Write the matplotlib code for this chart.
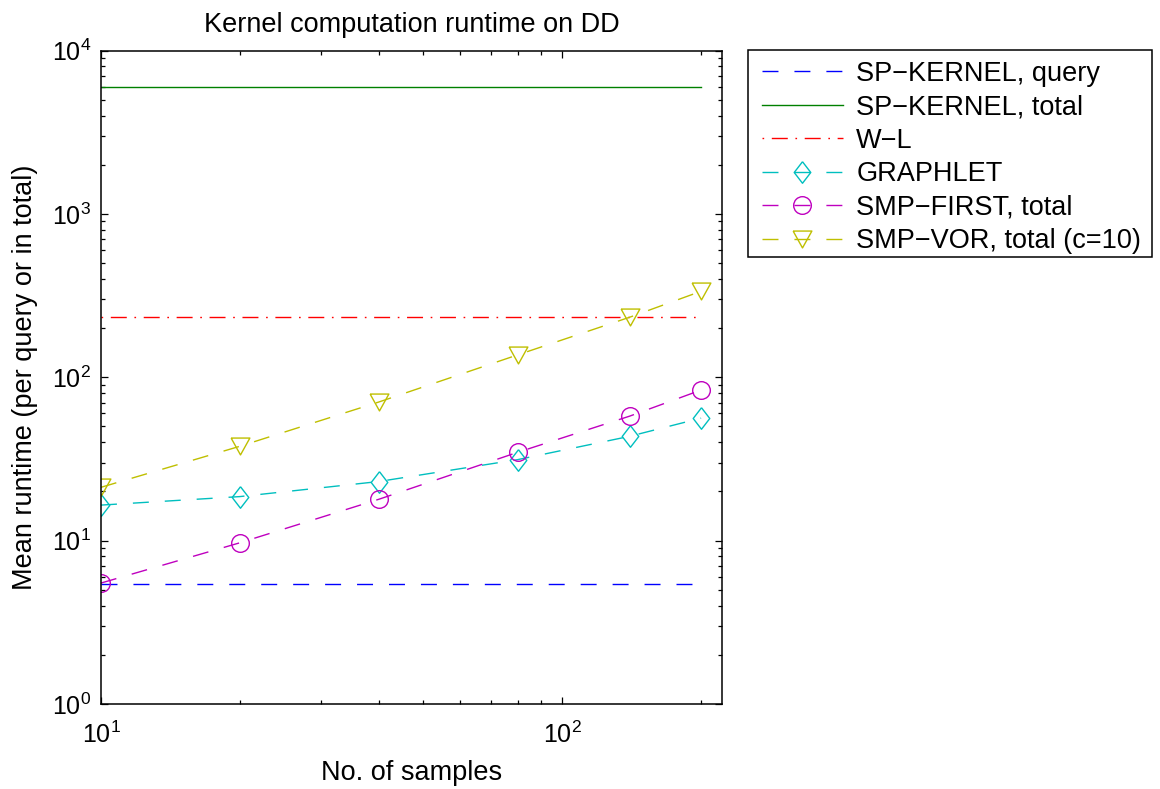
import matplotlib
matplotlib.use("Agg")
import matplotlib.pyplot as plt
from matplotlib.patches import Rectangle
import numpy as np

plt.rcParams['font.family'] = ['Liberation Sans', 'DejaVu Sans']
plt.rcParams['mathtext.fontset'] = 'custom'
plt.rcParams['mathtext.rm'] = 'Liberation Sans'
plt.rcParams['mathtext.it'] = 'Liberation Sans:italic'
plt.rcParams['mathtext.bf'] = 'Liberation Sans:bold'
plt.rcParams['lines.scale_dashes'] = False

# ---- data ----
samples = [10, 20, 40, 80, 140, 200]
x_range = [10, 200]
sp_query = 5.4
sp_total = 6000
wl = 233
graphlet = [16.5, 18.6, 23.0, 31.3, 43.5, 56.2]
smp_first = [5.5, 9.7, 17.9, 34.7, 57.8, 83.5]
smp_vor = [21.2, 37.8, 70.5, 137, 233, 336]

labels = ["SP\u2212KERNEL, query", "SP\u2212KERNEL, total", "W\u2212L",
          "GRAPHLET", "SMP\u2212FIRST, total", "SMP\u2212VOR, total (c=10)"]
title = "Kernel computation runtime on DD"
xlabel = "No. of samples"
ylabel = "Mean runtime (per query or in total)"

# ---- style ----
c_b = (0, 0, 1)
c_g = (0, 0.5, 0)
c_r = (1, 0, 0)
c_c = (0, 0.75, 0.75)
c_m = (0.75, 0, 0.75)
c_y = (0.75, 0.75, 0)
lw = 1.0
dash = (11.5, 11.5)
dashdot = (17, (11.5, 5.5, 1.2, 5.5))

diamond = [(0, 1), (0.77, 0), (0, -1), (-0.77, 0), (0, 1)]
tri_down = [(-1, 0.9), (1, 0.9), (0, -0.9), (-1, 0.9)]

W, H = 1160, 789
fig = plt.figure(figsize=(W/100, H/100), dpi=100)
ax = fig.add_axes([101/W, 1-704/H, (722-101)/W, (704-50.5)/H])

ax.plot(x_range, [sp_query]*2, color=c_b, lw=lw, dashes=dash, label=labels[0])
ax.plot(x_range, [sp_total]*2, color=c_g, lw=lw, ls='-', label=labels[1])
ax.plot(x_range, [wl]*2, color=c_r, lw=lw, ls=dashdot, label=labels[2])
ax.plot(samples, graphlet, color=c_c, lw=lw, dashes=dash, marker=diamond,
        ms=15.5, mfc='none', mec=c_c, mew=lw, label=labels[3])
ax.plot(samples, smp_first, color=c_m, lw=lw, dashes=dash, marker='o',
        ms=12.7, mfc='none', mec=c_m, mew=lw, label=labels[4])
ax.plot(samples, smp_vor, color=c_y, lw=lw, dashes=dash, marker=tri_down,
        ms=13.5, mfc='none', mec=c_y, mew=lw, label=labels[5])

ax.set_xscale('log')
ax.set_yscale('log')
ax.set_xlim(10, 222)
ax.set_ylim(1, 1e4)

for s in ax.spines.values():
    s.set_linewidth(1.1)
ax.tick_params(which='both', direction='in', top=True, right=True, width=0.9)
ax.tick_params(which='major', length=5, labelsize=18)
ax.tick_params(axis='x', which='major', pad=13)
ax.tick_params(axis='y', which='major', pad=7)
ax.tick_params(which='minor', length=3)

ax.set_title(title, fontsize=19.5, pad=13)
ax.set_xlabel(xlabel, fontsize=19.5, labelpad=8)
ax.set_ylabel(ylabel, fontsize=19.5, labelpad=10)

leg = fig.legend(loc='upper left', bbox_to_anchor=(748/W, 1-47/H),
                 borderaxespad=0, fontsize=19.5, handlelength=3.0,
                 handletextpad=0.5, labelspacing=0.28, borderpad=0.5,
                 frameon=False)

# legend box drawn as a frame rectangle (MATLAB-style, tight)
fig.patches.append(Rectangle((748/W, 1-257/H), (1152-748)/W, (257-50)/H,
                             transform=fig.transFigure, fill=False,
                             edgecolor='black', linewidth=1.1, zorder=5))

fig.savefig("out.png", dpi=100)
